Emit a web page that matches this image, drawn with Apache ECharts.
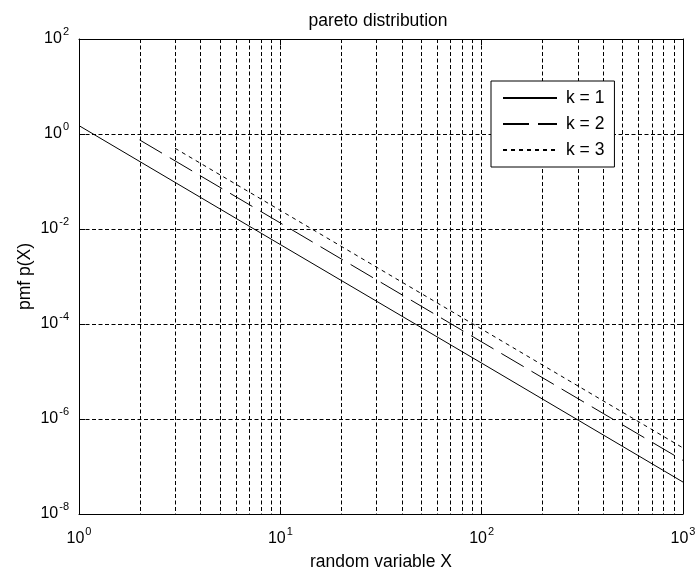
<!DOCTYPE html>
<html>
<head>
<meta charset="utf-8">
<script src="https://cdn.jsdelivr.net/npm/echarts@6/dist/echarts.min.js"></script>
<style>
  html, body { margin: 0; padding: 0; background: #fff; }
  #chart { width: 696px; height: 575px; }
</style>
</head>
<body>
<div id="chart"></div>
<script>
// Pareto pmf curves, one per k (x starts at k)
const k1X = [1, 10, 100, 1000];
const k1Y = [1.5, 4.7e-3, 1.5e-5, 4.7e-8];
const k2X = [2, 10, 100, 1000];
const k2Y = [0.75, 1.34e-2, 4.2e-5, 1.34e-7];
const k3X = [3, 10, 100, 1000];
const k3Y = [0.5, 2.46e-2, 7.8e-5, 2.46e-7];

const seriesNames = ['k = 1', 'k = 2', 'k = 3'];

// axis ranges and minor grid positions on the log x axis
const xRange = [1, 1000];
const yRange = [1e-8, 1e2];
const xMinorTicks = [2, 3, 4, 5, 6, 7, 8, 9,
                     20, 30, 40, 50, 60, 70, 80, 90,
                     200, 300, 400, 500, 600, 700, 800, 900];

const FONT = 'Liberation Sans, Arial, Helvetica, sans-serif';
const GRID_DASH = [4, 2.5];
const TEXT_SIZE = 17.5;

function pairs(xs, ys) { return xs.map((x, i) => [x, ys[i]]); }
function powLabel(v) {
  const e = Math.round(Math.log10(v));
  return '{b|10}{sup|' + e + '}';
}

const labelRich = {
  b: { fontSize: 16, fontFamily: FONT, color: '#000', padding: [5, 0, 5, 0], verticalAlign: 'bottom' },
  sup: { fontSize: 11, fontFamily: FONT, color: '#000', verticalAlign: 'top', padding: [0, 0, 0, 1] }
};

const axisLineStyle = { show: true, lineStyle: { color: '#000', width: 1 } };
const tickIn = { show: true, inside: true, length: 6, lineStyle: { color: '#000', width: 1 } };

const chart = echarts.init(document.getElementById('chart'), null, { renderer: 'canvas' });

chart.setOption({
  animation: false,
  backgroundColor: '#fff',
  title: {
    text: 'pareto distribution',
    left: 373,
    textAlign: 'center',
    top: 7,
    textStyle: { fontFamily: FONT, fontSize: TEXT_SIZE, fontWeight: 'normal', color: '#000' }
  },
  grid: { left: 79, right: 13, top: 39, bottom: 61, outerBoundsMode: 'none', containLabel: false },
  legend: {
    data: seriesNames,
    orient: 'vertical',
    left: 491,
    top: 81,
    padding: [8, 10, 8, 11],
    itemWidth: 54,
    itemHeight: 16,
    itemGap: 8,
    backgroundColor: '#fff',
    borderColor: '#000',
    borderWidth: 1,
    borderRadius: 0,
    itemStyle: { color: 'rgba(0,0,0,0)', borderColor: 'rgba(0,0,0,0)', borderWidth: 0 },
    textStyle: { fontFamily: FONT, fontSize: TEXT_SIZE, lineHeight: 16, color: '#000', padding: [0, 0, 0, 4] }
  },
  xAxis: [
    {
      type: 'log', logBase: 10, min: xRange[0], max: xRange[1], position: 'bottom',
      name: 'random variable X', nameLocation: 'middle', nameGap: 39,
      nameTextStyle: { fontFamily: FONT, fontSize: TEXT_SIZE, color: '#000' },
      axisLine: axisLineStyle, axisTick: tickIn,
      axisLabel: { formatter: powLabel, rich: labelRich, margin: 12 },
      splitLine: { show: true, lineStyle: { color: '#000', width: 1, type: GRID_DASH } },
      minorTick: { show: false }, minorSplitLine: { show: false }
    },
    {
      type: 'log', logBase: 10, min: xRange[0], max: xRange[1], position: 'top',
      axisLine: axisLineStyle, axisTick: tickIn,
      axisLabel: { show: false }, splitLine: { show: false }
    }
  ],
  yAxis: [
    {
      type: 'log', logBase: 10, min: yRange[0], max: yRange[1], interval: 2, position: 'left',
      name: 'pmf p(X)', nameLocation: 'middle', nameGap: 45, nameMoveOverlap: false,
      nameTextStyle: { fontFamily: FONT, fontSize: TEXT_SIZE, color: '#000' },
      axisLine: axisLineStyle, axisTick: tickIn,
      axisLabel: { formatter: powLabel, rich: labelRich, margin: 10 },
      splitLine: { show: true, lineStyle: { color: '#000', width: 1, type: GRID_DASH } }
    },
    {
      type: 'log', logBase: 10, min: yRange[0], max: yRange[1], interval: 2, position: 'right',
      axisLine: axisLineStyle, axisTick: tickIn,
      axisLabel: { show: false }, splitLine: { show: false }
    }
  ],
  series: [
    {
      // minor vertical grid lines at 2..9 of each decade
      type: 'custom',
      silent: true,
      xAxisIndex: 0, yAxisIndex: 0,
      data: xMinorTicks.map(v => [v, yRange[0]]),
      encode: { x: 0, y: 1 },
      z: 1,
      renderItem: function (params, api) {
        const top = api.coord([api.value(0), yRange[1]]);
        const bottom = api.coord([api.value(0), yRange[0]]);
        const x = Math.round(top[0]) + 0.5;
        return {
          type: 'line',
          shape: { x1: x, y1: top[1], x2: x, y2: bottom[1] },
          style: { stroke: '#000', lineWidth: 1, lineDash: GRID_DASH }
        };
      }
    },
    {
      name: seriesNames[0], type: 'line', data: pairs(k1X, k1Y),
      symbol: 'none', showSymbol: false, z: 3,
      lineStyle: { color: '#000', width: 1, type: 'solid' },
      itemStyle: { color: '#000' }
    },
    {
      name: seriesNames[1], type: 'line', data: pairs(k2X, k2Y),
      symbol: 'none', showSymbol: false, z: 3,
      lineStyle: { color: '#000', width: 1, type: [26, 9] },
      itemStyle: { color: '#000' }
    },
    {
      name: seriesNames[2], type: 'line', data: pairs(k3X, k3Y),
      symbol: 'none', showSymbol: false, z: 3,
      lineStyle: { color: '#000', width: 1, type: [4, 4] },
      itemStyle: { color: '#000' }
    }
  ]
});
</script>
</body>
</html>
